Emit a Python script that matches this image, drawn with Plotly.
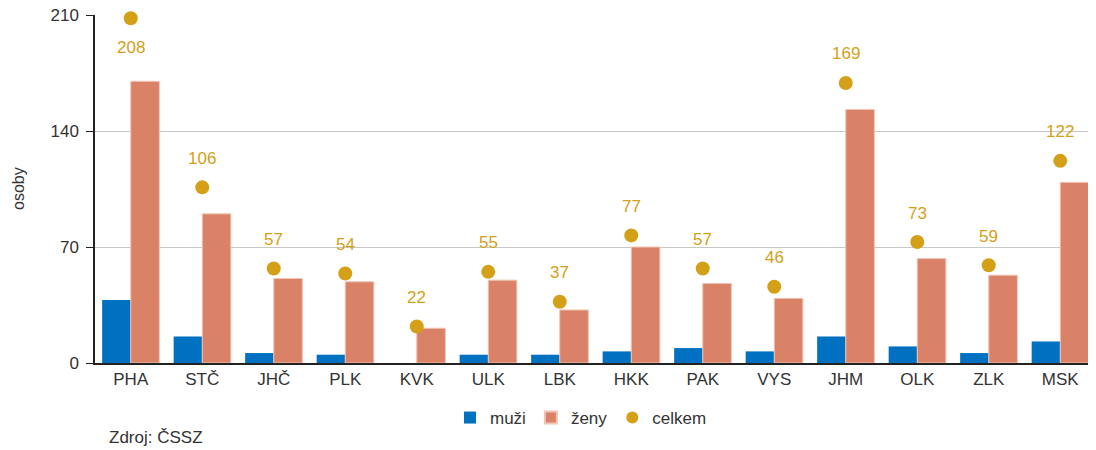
import plotly.graph_objects as go

kraje = ["PHA", "STČ", "JHČ", "PLK", "KVK", "ULK", "LBK", "HKK", "PAK", "VYS", "JHM", "OLK", "ZLK", "MSK"]
muzi = [38, 16, 6, 5, 0, 5, 5, 7, 9, 7, 16, 10, 6, 13]
zeny = [170, 90, 51, 49, 21, 50, 32, 70, 48, 39, 153, 63, 53, 109]
celkem = [208, 106, 57, 54, 22, 55, 37, 77, 57, 46, 169, 73, 59, 122]

C_MUZI = "#0070C0"
C_ZENY = "#DA8268"
C_CELK = "#D4A017"
FONT = "Liberation Sans, Arial, sans-serif"
TXT = "#333333"
FS = 17

# the page body adds an 8px offset; plot area in screen px: x 95..1096, y 15..363
OFF = 8
SX0, SX1, SY0, SY1 = 95, 1096, 15, 363
L, T = SX0 - OFF, SY0 - OFF
R = 1096 - (SX1 - OFF)
B = 450 - (SY1 - OFF)

def px(xs):
    return (xs - SX0) / (SX1 - SX0)

def py(ys):
    return (SY1 - ys) / (SY1 - SY0)

fig = go.Figure()
fig.add_trace(go.Bar(x=kraje, y=muzi, name="muži", marker=dict(color=C_MUZI, line=dict(width=0))))
fig.add_trace(go.Bar(x=kraje, y=zeny, name="ženy", marker=dict(color=C_ZENY, line=dict(color="#F2C4B5", width=1))))
fig.add_trace(go.Scatter(x=kraje, y=celkem, name="celkem", mode="markers",
                         marker=dict(color=C_CELK, size=14), cliponaxis=False))

for k, v in zip(kraje, celkem):
    shift = -29 if v > 200 else 29
    fig.add_annotation(x=k, y=v, text=str(v), showarrow=False, yshift=shift,
                       font=dict(color=C_CELK, size=FS, family=FONT))

fig.add_annotation(xref="paper", yref="paper", x=px(107), y=py(437),
                   xanchor="left", yanchor="middle", text="Zdroj: ČSSZ", showarrow=False,
                   font=dict(size=FS, color=TXT, family=FONT))
fig.add_annotation(xref="paper", yref="paper", x=px(18), y=py(189),
                   xanchor="center", yanchor="middle", text="osoby", textangle=-90,
                   showarrow=False, font=dict(size=FS - 1, color=TXT, family=FONT))

fig.update_layout(
    width=1096, height=450,
    margin=dict(l=L, r=R, t=T, b=B, autoexpand=False),
    paper_bgcolor="white", plot_bgcolor="white",
    barmode="group", bargap=0.2, bargroupgap=0,
    font=dict(family=FONT, size=FS, color=TXT),
    showlegend=True,
    legend=dict(orientation="h", x=px(450), xanchor="left",
                y=py(418), yanchor="middle",
                font=dict(size=FS, color=TXT), itemsizing="constant",
                traceorder="normal"),
    xaxis=dict(range=[-0.5, len(kraje) - 0.5], showline=True, linecolor="#222", linewidth=1.5,
               ticks="", tickfont=dict(size=FS, color=TXT), showgrid=False, automargin=False),
    yaxis=dict(range=[0, 210], tickvals=[0, 70, 140, 210], showgrid=True,
               gridcolor="#C8C8C8", showline=True, linecolor="#222", linewidth=1.5,
               ticks="outside", ticklen=7, tickcolor="#222", ticklabelstandoff=4,
               ticklabeloverflow="allow",
               tickfont=dict(size=FS, color=TXT), automargin=False,
               zeroline=False),
)

fig.write_html("out.html")
